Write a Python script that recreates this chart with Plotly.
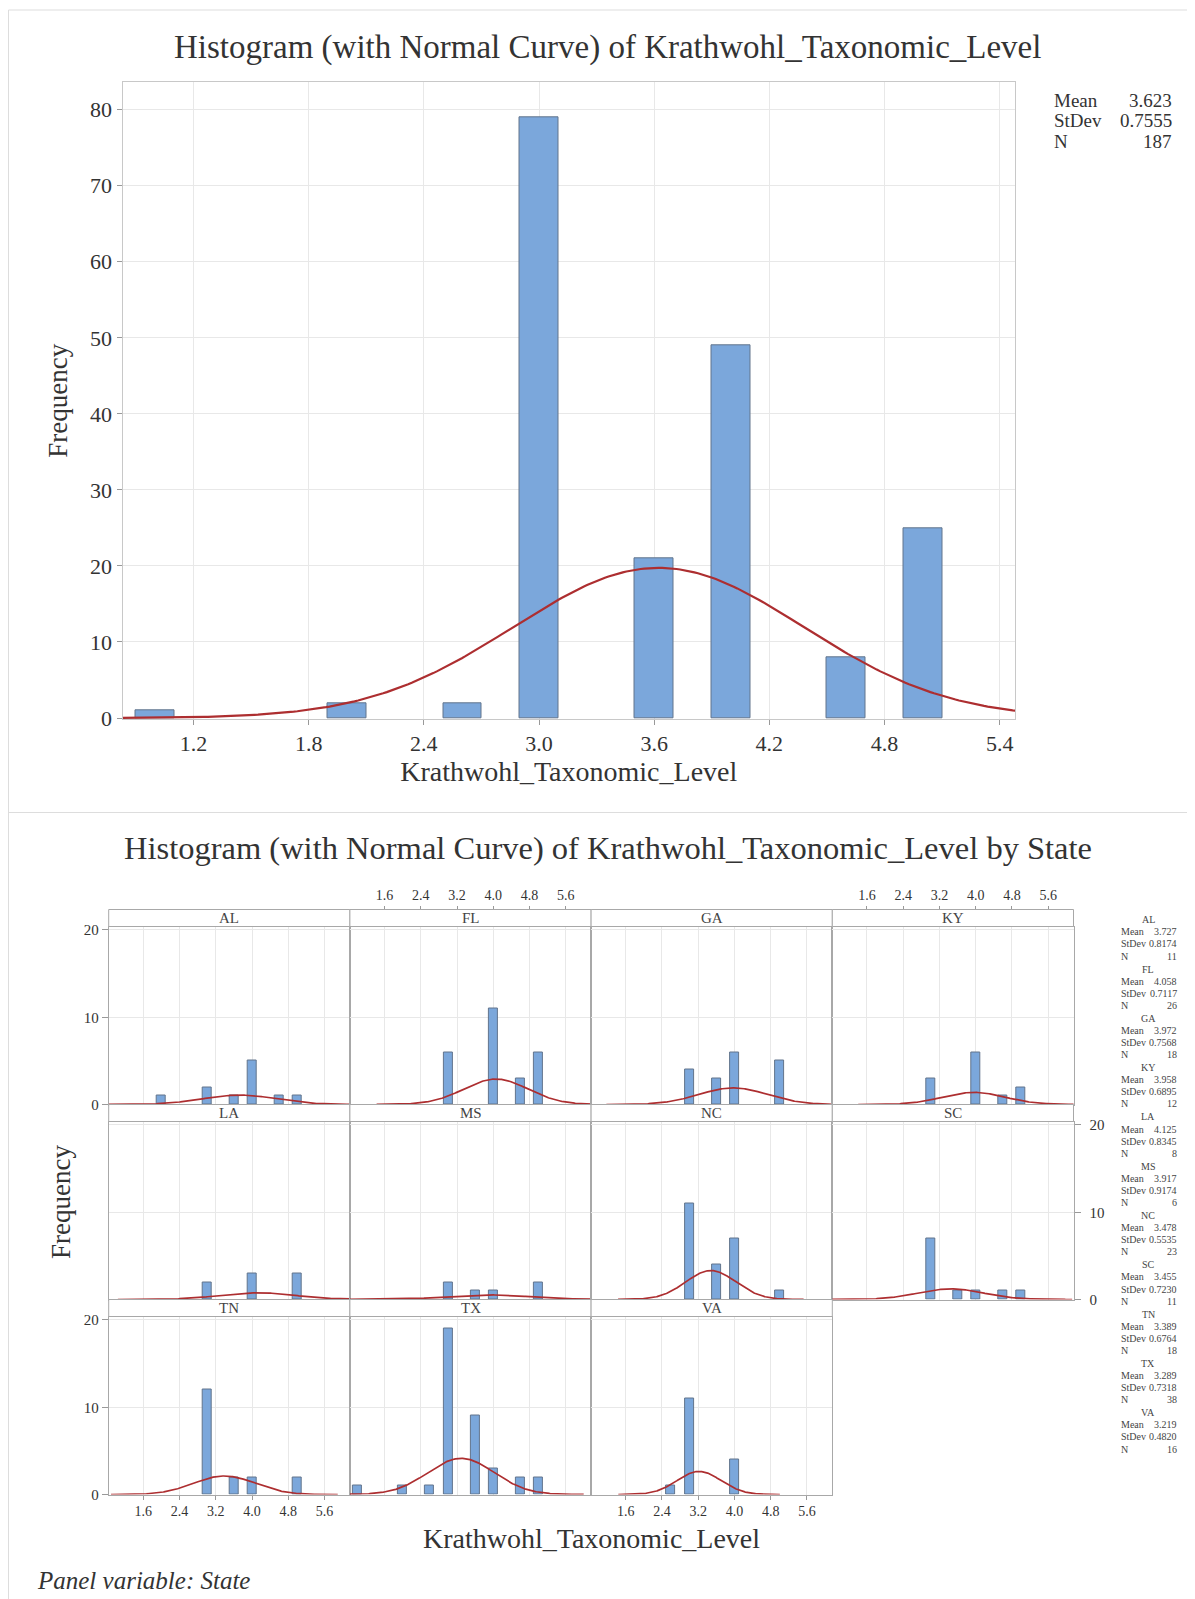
import numpy as np
import plotly.graph_objects as go

# page has an 8px body margin; work in page pixels and shift into figure coordinates
OFF = 8
W, H = 1195 - OFF, 1599 - OFF
SERIF = "Liberation Serif, Times New Roman, serif"
TXT = "#333333"
BAR_FILL = "#7ba7db"
BAR_LINE = "#62748c"
CURVE = "#ad2e30"
GRID = "#e8e8e8"
PANEL_LINE = "#a8a8a8"

# ---------------- data ----------------
bin_width = 0.2
bin_mid = [1.0, 2.0, 2.6, 3.0, 3.6, 4.0, 4.6, 5.0]
freq = [1, 2, 2, 79, 21, 49, 8, 25]
overall_mean, overall_sd, overall_n = 3.623, 0.7555, 187
overall_ticks = [1.2, 1.8, 2.4, 3.0, 3.6, 4.2, 4.8, 5.4]

states = ["AL", "FL", "GA", "KY", "LA", "MS", "NC", "SC", "TN", "TX", "VA"]
state_mid = [
    [2.0, 3.0, 3.6, 4.0, 4.6, 5.0],
    [3.0, 4.0, 4.6, 5.0],
    [3.0, 3.6, 4.0, 5.0],
    [3.0, 4.0, 4.6, 5.0],
    [3.0, 4.0, 5.0],
    [3.0, 3.6, 4.0, 5.0],
    [3.0, 3.6, 4.0, 5.0],
    [3.0, 3.6, 4.0, 4.6, 5.0],
    [3.0, 3.6, 4.0, 5.0],
    [1.0, 2.0, 2.6, 3.0, 3.6, 4.0, 4.6, 5.0],
    [2.6, 3.0, 4.0],
]
state_freq = [
    [1, 2, 1, 5, 1, 1],
    [6, 11, 3, 6],
    [4, 3, 6, 5],
    [3, 6, 1, 2],
    [2, 3, 3],
    [2, 1, 1, 2],
    [11, 4, 7, 1],
    [7, 1, 1, 1, 1],
    [12, 2, 2, 2],
    [1, 1, 1, 19, 9, 3, 2, 2],
    [1, 11, 4],
]
state_mean = [3.727, 4.058, 3.972, 3.958, 4.125, 3.917, 3.478, 3.455, 3.389, 3.289, 3.219]
state_sd = [0.8174, 0.7117, 0.7568, 0.6895, 0.8345, 0.9174, 0.5535, 0.7230, 0.6764, 0.7318, 0.4820]
state_n = [11, 26, 18, 12, 8, 6, 23, 11, 18, 38, 16]
panel_ticks = [1.6, 2.4, 3.2, 4.0, 4.8, 5.6]
panel_yticks = [0, 10, 20]


def px(x):
    return (x - OFF) / W


def py(y):
    return 1 - (y - OFF) / H


def normal_curve(mean, sd, n):
    xs = np.linspace(mean - 3.7 * sd, mean + 3.7 * sd, 301)
    ys = n * bin_width * np.exp(-0.5 * ((xs - mean) / sd) ** 2) / (sd * np.sqrt(2 * np.pi))
    return xs, ys


fig = go.Figure()
shapes = []
annotations = []

# ---------------- top chart ----------------
fig.add_trace(go.Bar(x=bin_mid, y=freq, width=bin_width, marker=dict(color=BAR_FILL, line=dict(color=BAR_LINE, width=1)),
                     xaxis="x", yaxis="y", showlegend=False))
cx, cy = normal_curve(overall_mean, overall_sd, overall_n)
fig.add_trace(go.Scatter(x=cx, y=cy, mode="lines", line=dict(color=CURVE, width=2.2), xaxis="x", yaxis="y", showlegend=False))

layout = dict(
    width=W, height=H, template="none", autosize=False,
    margin=dict(l=0, r=0, t=0, b=0),
    paper_bgcolor="white", plot_bgcolor="rgba(0,0,0,0)",
    bargap=0, showlegend=False,
    font=dict(family=SERIF, color=TXT),
)
layout["xaxis"] = dict(
    domain=[px(122.5), px(1015)], range=[0.83, 5.48], anchor="y",
    tickvals=overall_ticks, ticktext=[f"{v:.1f}" for v in overall_ticks],
    showgrid=True, gridcolor=GRID, zeroline=False,
    showline=True, mirror=True, linecolor="#c8c8c8", linewidth=1,
    ticks="outside", ticklen=5, tickcolor="#999999",
    tickfont=dict(family=SERIF, size=22, color=TXT),
    title=dict(text="Krathwohl_Taxonomic_Level", font=dict(family=SERIF, size=28, color=TXT), standoff=5),
    automargin=False,
)
layout["yaxis"] = dict(
    domain=[py(719), py(82.3)], range=[-0.13, 83.6], anchor="x",
    tickvals=list(range(0, 81, 10)),
    showgrid=True, gridcolor=GRID, zeroline=False,
    showline=True, mirror=True, linecolor="#c8c8c8", linewidth=1,
    ticks="outside", ticklen=5, tickcolor="#999999",
    tickfont=dict(family=SERIF, size=22, color=TXT),
    title=dict(text="Frequency", font=dict(family=SERIF, size=27, color=TXT), standoff=14),
    automargin=False,
)

annotations.append(dict(text="Histogram (with Normal Curve) of Krathwohl_Taxonomic_Level",
                        x=px(608), y=py(48), xref="paper", yref="paper", showarrow=False,
                        xanchor="center", yanchor="middle", font=dict(family=SERIF, size=33, color=TXT)))

overall_labels = ["Mean", "StDev", "N"]
overall_values = [f"{overall_mean:.3f}", f"{overall_sd:.4f}", f"{overall_n}"]
for k, (lab, val) in enumerate(zip(overall_labels, overall_values)):
    yy = 100 + 20.8 * k
    annotations.append(dict(text=lab, x=px(1052), y=py(yy), xref="paper", yref="paper", showarrow=False,
                            xanchor="left", yanchor="middle", font=dict(family=SERIF, size=19, color=TXT)))
    annotations.append(dict(text=val, x=px(1173.5), y=py(yy), xref="paper", yref="paper", showarrow=False,
                            xanchor="right", yanchor="middle", font=dict(family=SERIF, size=19, color=TXT)))

# ---------------- panel chart ----------------
col_left = [108.7, 349.9, 591.1, 832.3]
col_w = 241.2
row_top = [909.5, 1104.5, 1299.5]
strip_h = 17.0
row_h = 195.0
prange = [0.835, 6.16]
yrange = [0, 20.4]

for i, st in enumerate(states):
    r, c = divmod(i, 4)
    xa, ya = f"x{i + 2}", f"y{i + 2}"
    fig.add_trace(go.Bar(x=state_mid[i], y=state_freq[i], width=bin_width,
                         marker=dict(color=BAR_FILL, line=dict(color=BAR_LINE, width=1)),
                         xaxis=xa, yaxis=ya, showlegend=False))
    sx, sy = normal_curve(state_mean[i], state_sd[i], state_n[i])
    fig.add_trace(go.Scatter(x=sx, y=sy, mode="lines", line=dict(color=CURVE, width=1.7),
                             xaxis=xa, yaxis=ya, showlegend=False))

    L = col_left[c]
    T = row_top[r]
    bottom_labels = (r == 2 and c in (0, 2))
    layout[f"xaxis{i + 2}"] = dict(
        domain=[px(L), px(L + col_w)], range=prange, anchor=ya,
        tickvals=panel_ticks, ticktext=[f"{v:.1f}" for v in panel_ticks],
        showticklabels=bottom_labels, ticks="outside" if bottom_labels else "",
        ticklen=4, tickcolor="#999999",
        tickfont=dict(family=SERIF, size=14, color=TXT),
        showgrid=True, gridcolor=GRID, zeroline=False,
        showline=True, mirror=True, linecolor=PANEL_LINE, linewidth=1,
        automargin=False,
    )
    left_labels = (c == 0 and r in (0, 2))
    right_labels = (r == 1 and c == 3)
    ydict = dict(
        domain=[py(T + row_h), py(T + strip_h)], range=yrange, anchor=xa,
        tickvals=panel_yticks,
        showticklabels=left_labels or right_labels,
        ticks="outside" if (left_labels or right_labels) else "",
        ticklen=6, tickcolor="#999999",
        tickfont=dict(family=SERIF, size=15, color=TXT),
        showgrid=True, gridcolor=GRID, zeroline=False,
        showline=True, mirror=True, linecolor=PANEL_LINE, linewidth=1,
        automargin=False,
    )
    if right_labels:
        ydict["side"] = "right"
        ydict["ticklabelstandoff"] = 6
    layout[f"yaxis{i + 2}"] = ydict

    # strip
    shapes.append(dict(type="rect", xref="paper", yref="paper",
                       x0=px(L), x1=px(L + col_w), y0=py(T + strip_h), y1=py(T),
                       line=dict(color=PANEL_LINE, width=1), fillcolor="white", layer="above"))
    annotations.append(dict(text=st, x=px(L + col_w / 2), y=py(T + strip_h / 2), xref="paper", yref="paper",
                            showarrow=False, xanchor="center", yanchor="middle",
                            font=dict(family=SERIF, size=15, color="#444444")))

# top tick axes above row 1 for columns 2 and 4
for j, c in enumerate((1, 3)):
    name = 13 + j
    L = col_left[c]
    layout[f"xaxis{name}"] = dict(
        domain=[px(L), px(L + col_w)], range=prange, anchor="free", position=py(row_top[0]),
        overlaying=f"x{c + 2}",
        side="top", tickvals=panel_ticks, ticktext=[f"{v:.1f}" for v in panel_ticks],
        ticks="outside", ticklen=4, tickcolor="#999999",
        tickfont=dict(family=SERIF, size=14, color=TXT),
        showgrid=False, zeroline=False, showline=False, automargin=False,
    )
    fig.add_trace(go.Scatter(x=[panel_ticks[0]], y=[-50], mode="markers", marker=dict(opacity=0),
                             xaxis=f"x{name}", yaxis=f"y{c + 2}", showlegend=False, hoverinfo="skip"))

annotations.append(dict(text="Histogram (with Normal Curve) of Krathwohl_Taxonomic_Level by State",
                        x=px(608), y=py(848), xref="paper", yref="paper", showarrow=False,
                        xanchor="center", yanchor="middle", font=dict(family=SERIF, size=32.5, color=TXT)))
annotations.append(dict(text="Krathwohl_Taxonomic_Level", x=px(591), y=py(1538), xref="paper", yref="paper",
                        showarrow=False, xanchor="center", yanchor="middle",
                        font=dict(family=SERIF, size=28, color=TXT)))
annotations.append(dict(text="Frequency", x=px(61), y=py(1202), xref="paper", yref="paper", textangle=-90,
                        showarrow=False, xanchor="center", yanchor="middle",
                        font=dict(family=SERIF, size=27, color=TXT)))
annotations.append(dict(text="<i>Panel variable: State</i>", x=px(35), y=py(1580), xref="paper", yref="paper",
                        showarrow=False, xanchor="left", yanchor="middle",
                        font=dict(family=SERIF, size=25, color=TXT)))

# per-state statistics column
for k, st in enumerate(states):
    y0 = 919.7 + 49.3 * k
    annotations.append(dict(text=st, x=px(1148), y=py(y0), xref="paper", yref="paper", showarrow=False,
                            xanchor="center", yanchor="middle", font=dict(family=SERIF, size=10, color="#444444")))
    labs = ["Mean", "StDev", "N"]
    vals = [f"{state_mean[k]:.3f}", f"{state_sd[k]:.4f}", f"{state_n[k]}"]
    for m, (lab, val) in enumerate(zip(labs, vals)):
        yy = y0 + 12.1 * (m + 1)
        annotations.append(dict(text=lab, x=px(1118.5), y=py(yy), xref="paper", yref="paper", showarrow=False,
                                xanchor="left", yanchor="middle", font=dict(family=SERIF, size=10, color="#444444")))
        annotations.append(dict(text=val, x=px(1178.5), y=py(yy), xref="paper", yref="paper", showarrow=False,
                                xanchor="right", yanchor="middle", font=dict(family=SERIF, size=10, color="#444444")))

# outer frame lines
FRAME = "#dddddd"
shapes.append(dict(type="line", xref="paper", yref="paper", x0=px(8.5), x1=px(8.5), y0=py(10), y1=0,
                   line=dict(color=FRAME, width=1)))
shapes.append(dict(type="line", xref="paper", yref="paper", x0=px(8.5), x1=1, y0=py(10), y1=py(10),
                   line=dict(color=FRAME, width=1)))
shapes.append(dict(type="line", xref="paper", yref="paper", x0=px(8.5), x1=1, y0=py(812.5), y1=py(812.5),
                   line=dict(color=FRAME, width=1)))

layout["shapes"] = shapes
layout["annotations"] = annotations
fig.update_layout(**layout)
fig.write_html("out.html")
